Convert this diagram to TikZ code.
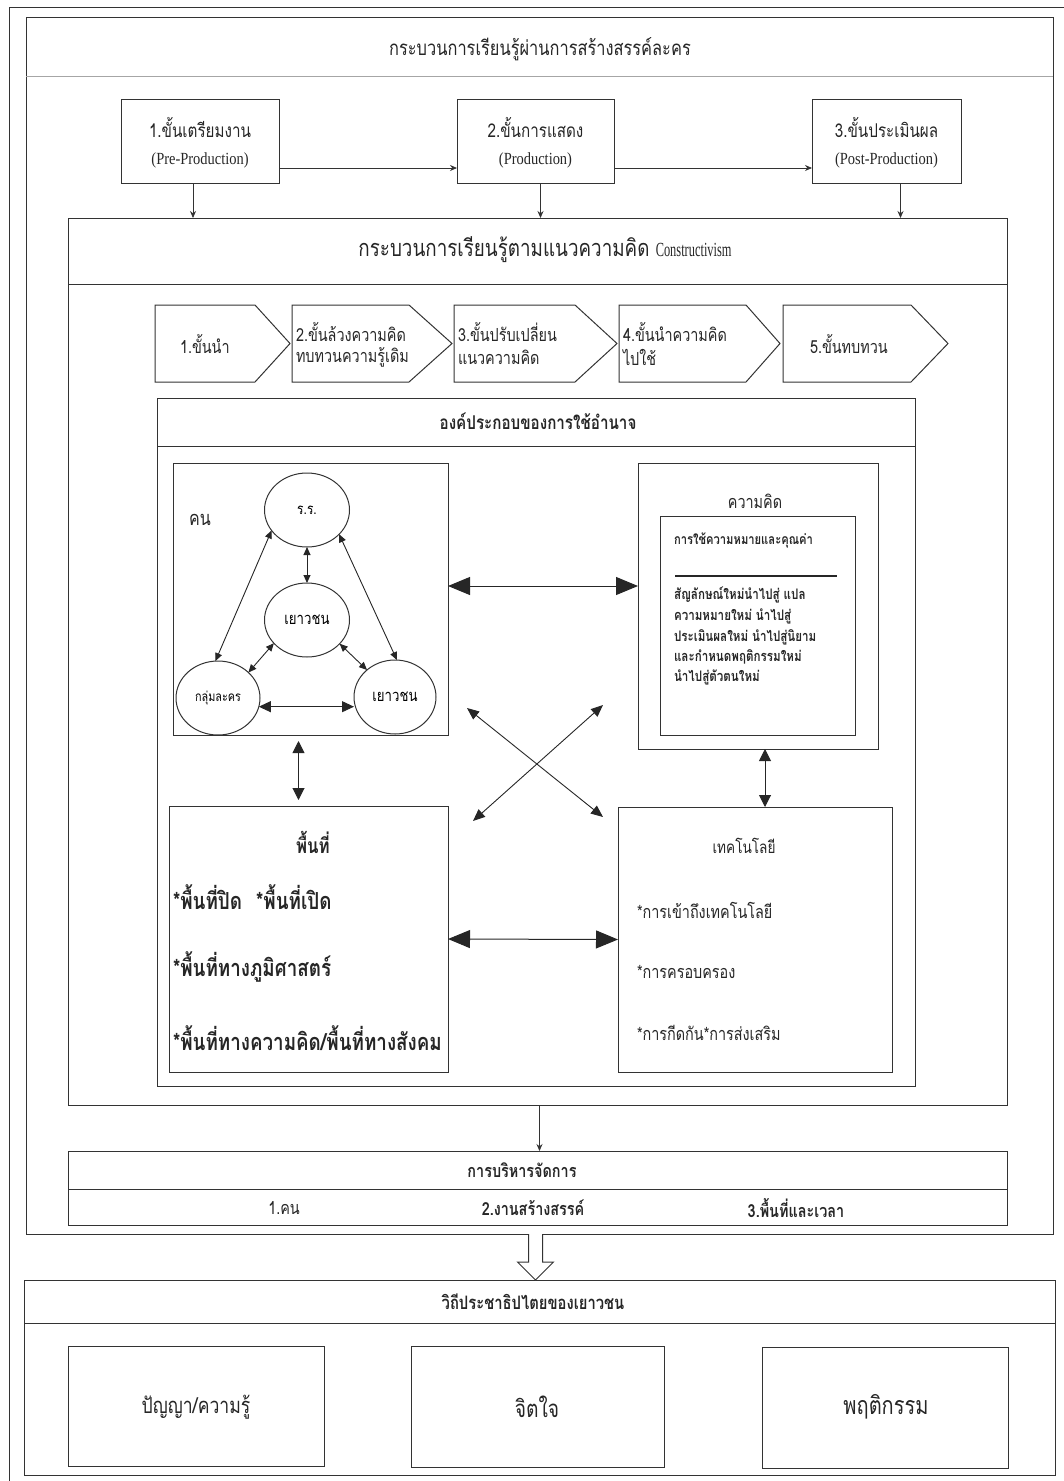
\documentclass[tikz,border=0pt]{standalone}
\usepackage{fontspec}
\setmainfont{Liberation Serif}
\newfontfamily\thaifont[Script=Thai,FakeStretch=0.8]{Loma}
\newfontfamily\latfont[FakeStretch=0.85]{Liberation Serif}
\newfontfamily\latnfont[FakeStretch=0.62]{Liberation Serif}
\newcommand\tf[1]{\thaifont\fontsize{#1}{#1}\selectfont}
\newcommand\lf[1]{\latfont\fontsize{#1}{#1}\selectfont}
\newcommand\lnf[1]{\latnfont\fontsize{#1}{#1}\selectfont}
\usetikzlibrary{arrows.meta,shapes.geometric,fit,calc}
\begin{document}
\begin{tikzpicture}[x=1pt,y=-1pt,
  ln/.style={draw=black!80, line width=1pt},
  bx/.style={ln, rectangle, inner sep=0pt, outer sep=0pt},
  ell/.style={ln, ellipse, inner sep=0pt, outer sep=0pt},
  lbl/.style={inner sep=0pt, outer sep=0pt, text=black!85},
  sarr/.style={black!80, line width=0.8pt, -{Stealth[length=7pt,width=6pt]}},
  carr/.style={black!85, line width=0.9pt, {Triangle[length=8pt,width=7pt]}-{Triangle[length=8pt,width=7pt]}},
  marr/.style={black!85, line width=1pt, {Triangle[length=12pt,width=12pt]}-{Triangle[length=12pt,width=12pt]}},
  barr/.style={black!85, line width=1pt, {Triangle[length=22pt,width=18pt]}-{Triangle[length=22pt,width=18pt]}},
]
\useasboundingbox (0,0) rectangle (1064,1481);
% page frame
\coordinate (pgtr) at (1064,7);
\coordinate (pgtl) at (9,7);
\coordinate (pgbl) at (9,1481);
\draw[ln, line width=0.8pt] (pgtr) -- (pgtl) -- (pgbl);

% main box
\node[bx, fit={(26,17) (1053,1234)}] (main) {};
\coordinate (mdl) at (26,76);
\coordinate (mdr) at (1053,76);
\draw[black!35, line width=1pt] (mdl) -- (mdr);
\node[lbl, font=\tf{20.5}] (mtitle) at (540,49) {กระบวนการเรียนรู้ผ่านการสร้างสรรค์ละคร};

% top boxes
\node[bx, fit={(121,99) (279,183)}] (b1) {};
\node[bx, fit={(457,99) (614,183)}] (b2) {};
\node[bx, fit={(812,99) (961,183)}] (b3) {};
\node[lbl, font=\tf{19}] (b1a) at (200,127) {1.ขั้นเตรียมงาน};
\node[lbl, font=\lf{17}] (b1b) at (200,160) {(Pre-Production)};
\node[lbl, font=\tf{19}] (b2a) at (535.5,127) {2.ขั้นการแสดง};
\node[lbl, font=\lf{17}] (b2b) at (535.5,160) {(Production)};
\node[lbl, font=\tf{19}] (b3a) at (886.5,127) {3.ขั้นประเมินผล};
\node[lbl, font=\lf{17}] (b3b) at (886.5,160) {(Post-Production)};
\draw[sarr] ([yshift=-27pt]b1.east) -- ([yshift=-27pt]b2.west);
\draw[sarr] ([yshift=-27pt]b2.east) -- ([yshift=-27pt]b3.west);

% constructivism box
\node[bx, fit={(68,218) (1007,1105)}] (cons) {};
\coordinate (cdl) at (68,284);
\coordinate (cdr) at (1007,284);
\draw[ln] (cdl) -- (cdr);
\node[lbl, font=\tf{23.5}] (ctitle) at (545,250) {กระบวนการเรียนรู้ตามแนวความคิด {\lnf{20}Constructivism}};
\draw[sarr] ([xshift=-7pt]b1.south) -- ([xshift=-7pt]b1.south |- cons.north);
\draw[sarr] ([xshift=5pt]b2.south) -- ([xshift=5pt]b2.south |- cons.north);
\draw[sarr] ([xshift=14pt]b3.south) -- ([xshift=14pt]b3.south |- cons.north);

% chevrons
\draw[ln] (155,305) -- (255,305) -- (290,343.5) -- (255,382) -- (155,382) -- cycle;
\draw[ln] (292,305) -- (409,305) -- (452,343.5) -- (409,382) -- (292,382) -- cycle;
\draw[ln] (454,305) -- (575,305) -- (617,343.5) -- (575,382) -- (454,382) -- cycle;
\draw[ln] (619,305) -- (746,305) -- (780,343.5) -- (746,382) -- (619,382) -- cycle;
\draw[ln] (783,305) -- (911,305) -- (948,343.5) -- (911,382) -- (783,382) -- cycle;
\node[lbl, font=\tf{18}, anchor=west] (s1) at (180,344) {1.ขั้นนำ};
\node[lbl, font=\tf{18}, anchor=west] (s2a) at (296,332) {2.ขั้นล้วงความคิด};
\node[lbl, font=\tf{18}, anchor=west] (s2b) at (296,357) {ทบทวนความรู้เดิม};
\node[lbl, font=\tf{18}, anchor=west] (s3a) at (458,332) {3.ขั้นปรับเปลี่ยน};
\node[lbl, font=\tf{18}, anchor=west] (s3b) at (458,357) {แนวความคิด};
\node[lbl, font=\tf{18}, anchor=west] (s4a) at (623,332) {4.ขั้นนำความคิด};
\node[lbl, font=\tf{18}, anchor=west] (s4b) at (623,357) {ไปใช้};
\node[lbl, font=\tf{18}, anchor=west] (s5) at (810,344) {5.ขั้นทบทวน};

% power box
\node[bx, fit={(157,398) (915,1086)}] (pow) {};
\coordinate (pdl) at (157,446);
\coordinate (pdr) at (915,446);
\draw[ln] (pdl) -- (pdr);
\node[lbl, font=\tf{19}\bfseries] (ptitle) at (538,421) {องค์ประกอบของการใช้อำนาจ};

% people box
\node[bx, fit={(173,463) (448,735)}] (kon) {};
\node[lbl, font=\tf{20}] (konl) at (200,520) {คน};
\node[ell, minimum width=85pt, minimum height=74pt, font=\tf{15}] (rr) at (307,510) {ร.ร.};
\node[ell, minimum width=85pt, minimum height=74pt, font=\tf{16.5}] (yc) at (307,620) {เยาวชน};
\node[ell, minimum width=84pt, minimum height=74pt, font=\tf{13.5}] (gl) at (218,698) {กลุ่มละคร};
\node[ell, minimum width=82pt, minimum height=74pt, font=\tf{16.5}] (yr) at (395,697) {เยาวชน};
\draw[carr] (rr.210) -- (gl.94);
\draw[carr] (rr.323) -- (yr.87);
\draw[carr] (rr.south) -- (yc.north);
\draw[carr] (yc.215) -- (gl.40);
\draw[carr] (yc.324) -- (yr.136);
\draw[black!85, line width=0.9pt, {Triangle[length=12pt,width=11pt]}-{Triangle[length=12pt,width=11pt]}] (gl.-12) -- (gl.-12 -| yr.west);

% idea box
\node[bx, fit={(638,463) (878,749)}] (kid) {};
\node[lbl, font=\tf{18}] (kidt) at (755,501) {ความคิด};
\node[bx, fit={(660,516) (855,735)}] (kidi) {};
\node[lbl, font=\tf{14}\bfseries, anchor=west] (k0) at (674,540) {การใช้ความหมายและคุณค่า};
\coordinate (rl) at (675,576);
\coordinate (rr2) at (837,576);
\draw[black!85, line width=1.2pt] (rl) -- (rr2);
\node[lbl, font=\tf{14.5}\bfseries, anchor=west] (k1) at (674,595) {สัญลักษณ์ใหม่นำไปสู่ แปล};
\node[lbl, font=\tf{14.5}\bfseries, anchor=west] (k2) at (674,616) {ความหมายใหม่ นำไปสู่};
\node[lbl, font=\tf{14.5}\bfseries, anchor=west] (k3) at (674,637) {ประเมินผลใหม่ นำไปสู่นิยาม};
\node[lbl, font=\tf{14.5}\bfseries, anchor=west] (k4) at (674,657) {และกำหนดพฤติกรรมใหม่};
\node[lbl, font=\tf{14.5}\bfseries, anchor=west] (k5) at (674,677) {นำไปสู่ตัวตนใหม่};

\draw[barr] ([yshift=13pt]kon.east) -- ([yshift=13pt]kon.east -| kid.west);

% space box
\node[bx, fit={(169,806) (448,1072)}] (pt) {};
\node[lbl, font=\tf{21}\bfseries] (ptt) at (313,842) {พื้นที่};
\node[lbl, font=\tf{23.5}\bfseries, anchor=west] (p1) at (173,897) {*พื้นที่ปิด\hspace{14pt}*พื้นที่เปิด};
\node[lbl, font=\tf{23.5}\bfseries, anchor=west] (p2) at (173,967) {*พื้นที่ทางภูมิศาสตร์};
\node[lbl, font=\tf{23.5}\bfseries, anchor=west] (p3) at (173,1038) {*พื้นที่ทางความคิด/พื้นที่ทางสังคม};

% technology box
\node[bx, fit={(618,807) (892,1072)}] (tec) {};
\node[lbl, font=\tf{17}] (tect) at (744,846) {เทคโนโลยี};
\node[lbl, font=\tf{18}, anchor=west] (t1) at (637,910) {*การเข้าถึงเทคโนโลยี};
\node[lbl, font=\tf{18}, anchor=west] (t2) at (637,972) {*การครอบครอง};
\node[lbl, font=\tf{18}, anchor=west] (t3) at (637,1033) {*การกีดกัน*การส่งเสริม};

\draw[barr] (pt.east) -- (tec.west);
\draw[marr, shorten <=6pt, shorten >=6pt] ([xshift=-12pt]kon.south) -- ([xshift=-12pt]kon.south |- pt.north);
\draw[marr] ([xshift=7pt]kid.south) -- ([xshift=7pt]kid.south |- tec.north);

% cross arrows
\coordinate (x1) at (467,708);
\coordinate (x2) at (603,817);
\coordinate (x3) at (603,705);
\coordinate (x4) at (473,821);
\draw[black!85, line width=0.9pt, {Triangle[length=12pt,width=10pt]}-{Triangle[length=12pt,width=10pt]}] (x1) -- (x2);
\draw[black!85, line width=0.9pt, {Triangle[length=12pt,width=10pt]}-{Triangle[length=12pt,width=10pt]}] (x3) -- (x4);

% management
\node[bx, fit={(68,1151) (1007,1225)}] (mgt) {};
\coordinate (gdl) at (68,1189);
\coordinate (gdr) at (1007,1189);
\draw[ln] (gdl) -- (gdr);
\draw[sarr] ([xshift=2pt]cons.south) -- ([xshift=2pt]cons.south |- mgt.north);
\node[lbl, font=\tf{18}\bfseries] (gtitle) at (522,1170) {การบริหารจัดการ};
\node[lbl, font=\tf{18}] (g1) at (284,1208) {1.คน};
\node[lbl, font=\tf{18}\bfseries] (g2) at (533,1208) {2.งานสร้างสรรค์};
\node[lbl, font=\tf{18}\bfseries] (g3) at (796,1208) {3.พื้นที่และเวลา};

% bottom box
\node[bx, fit={(24,1280) (1055,1475)}] (dem) {};
\coordinate (ddl) at (24,1323);
\coordinate (ddr) at (1055,1323);
\draw[ln] (ddl) -- (ddr);
\node[lbl, font=\tf{18.5}\bfseries] (dtitle) at (533,1302) {วิถีประชาธิปไตยของเยาวชน};
\node[bx, fit={(68,1346) (324,1466)}] (q1) {};
\node[bx, fit={(411,1346) (664,1467)}] (q2) {};
\node[bx, fit={(762,1347) (1008,1468)}] (q3) {};
\node[lbl, font=\tf{22}] (q1t) at (196,1407) {ปัญญา/ความรู้};
\node[lbl, font=\tf{24}] (q2t) at (537,1407) {จิตใจ};
\node[lbl, font=\tf{25}] (q3t) at (886,1407) {พฤติกรรม};

% hollow arrow main -> bottom
\draw[ln, fill=white] ($(main.south)+(-11,0)$) -- ++(0,28) -- ++(-11,0) -- ($(dem.north)+(-4,0)$) -- ++(18,-18) -- ++(-11,0) -- ($(main.south)+(3,0)$);
\end{tikzpicture}
\end{document}
